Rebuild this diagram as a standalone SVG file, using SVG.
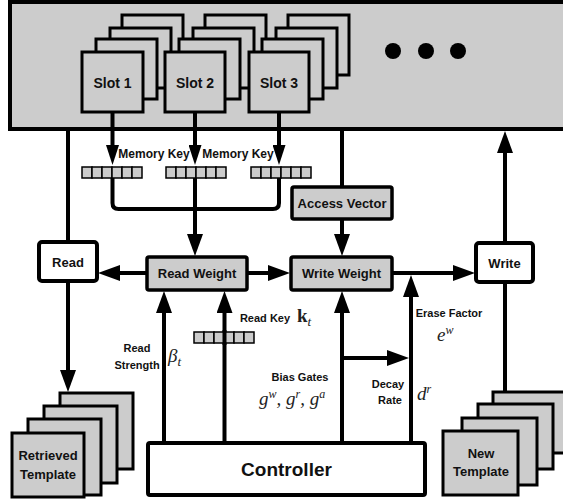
<svg xmlns="http://www.w3.org/2000/svg" width="563" height="504" viewBox="0 0 563 504">
<style>
.g{fill:#cccccc;stroke:#000;stroke-width:3}
.gb{fill:#cccccc;stroke:#000;stroke-width:3.5}
.w{fill:#fff;stroke:#000;stroke-width:4}
.c{fill:#cccccc;stroke:#000;stroke-width:1.5}
.ln{fill:none;stroke:#000;stroke-width:4}
.t{font-family:"Liberation Sans",Arial,sans-serif;font-weight:bold;fill:#111;text-anchor:middle}
.m{font-family:"Liberation Serif","DejaVu Serif",serif;font-style:italic;fill:#222}
</style>
<defs>
<marker id="a" markerUnits="userSpaceOnUse" markerWidth="22" markerHeight="16" refX="10" refY="8" orient="auto"><path d="M0,0 L22,8 L0,16 z" fill="#000"/></marker>
<marker id="s" markerUnits="userSpaceOnUse" markerWidth="20" markerHeight="13" refX="8" refY="6.5" orient="auto"><path d="M0,0 L20,6.5 L0,13 z" fill="#000"/></marker>
<g id="bar"><rect class="c" x="0" y="0" width="10" height="11"/><rect class="c" x="10" y="0" width="10" height="11"/><rect class="c" x="20" y="0" width="10" height="11"/><rect class="c" x="30" y="0" width="10" height="11"/><rect class="c" x="40" y="0" width="10" height="11"/><rect class="c" x="50" y="0" width="10" height="11"/></g>
</defs>

<g id="memory">
<rect x="10" y="2" width="570" height="127" fill="#cccccc" stroke="#000" stroke-width="4"/>
<circle cx="393" cy="51" r="8" fill="#000"/>
<circle cx="426" cy="51" r="8" fill="#000"/>
<circle cx="458" cy="51" r="8" fill="#000"/>
</g>

<g id="slot1">
<rect class="g" x="122" y="15" width="61" height="60"/>
<rect class="g" x="110" y="28" width="61" height="60"/>
<rect class="g" x="96" y="39" width="61" height="60"/>
<rect class="g" x="82" y="52" width="61" height="60"/>
<text class="t" x="112.5" y="88" font-size="14">Slot 1</text>
</g>
<g id="slot2">
<rect class="g" x="205" y="15" width="61" height="60"/>
<rect class="g" x="193" y="28" width="61" height="60"/>
<rect class="g" x="179" y="39" width="61" height="60"/>
<rect class="g" x="165" y="52" width="60" height="60"/>
<text class="t" x="195" y="88" font-size="14">Slot 2</text>
</g>
<g id="slot3">
<rect class="g" x="288" y="15" width="61" height="60"/>
<rect class="g" x="276" y="28" width="61" height="60"/>
<rect class="g" x="262" y="39" width="61" height="60"/>
<rect class="g" x="249" y="52" width="60" height="60"/>
<text class="t" x="279" y="88" font-size="14">Slot 3</text>
</g>

<g id="keys">
<use href="#bar" x="82" y="167"/>
<use href="#bar" x="166" y="167"/>
<use href="#bar" x="251" y="167"/>
<text class="t" x="154" y="158" font-size="12">Memory Key</text>
<text class="t" x="238" y="158" font-size="12">Memory Key</text>
</g>

<g id="connectors">
<line class="ln" x1="112.5" y1="112" x2="112.5" y2="153" marker-end="url(#s)"/>
<line class="ln" x1="195" y1="112" x2="195" y2="153" marker-end="url(#s)"/>
<line class="ln" x1="279" y1="112" x2="279" y2="153" marker-end="url(#s)"/>
<path class="ln" d="M112.5,178 V203 Q112.5,209 118.5,209 H273 Q279,209 279,203 V178"/>
<line class="ln" x1="195" y1="178" x2="195" y2="244" marker-end="url(#a)"/>
<line class="ln" x1="68" y1="129" x2="68" y2="242"/>
<line class="ln" x1="68" y1="281" x2="68" y2="380" marker-end="url(#a)"/>
<line class="ln" x1="342" y1="129" x2="342" y2="187"/>
<line class="ln" x1="342" y1="219" x2="342" y2="244" marker-end="url(#a)"/>
<line class="ln" x1="505" y1="243" x2="505" y2="143" marker-end="url(#a)"/>
<line class="ln" x1="505" y1="282" x2="505" y2="392"/>
<line class="ln" x1="147" y1="273" x2="110" y2="273" marker-end="url(#a)"/>
<line class="ln" x1="247" y1="273" x2="278" y2="273" marker-end="url(#a)"/>
<line class="ln" x1="392" y1="273" x2="463" y2="273" marker-end="url(#a)"/>
<line class="ln" x1="164" y1="443" x2="164" y2="303" marker-end="url(#a)"/>
<line class="ln" x1="224.5" y1="443" x2="224.5" y2="303" marker-end="url(#a)"/>
<line class="ln" x1="342" y1="443" x2="342" y2="303" marker-end="url(#a)"/>
<line class="ln" x1="342" y1="358" x2="397" y2="358" marker-end="url(#a)"/>
<line class="ln" x1="411" y1="443" x2="411" y2="287" marker-end="url(#a)"/>
</g>

<g id="readkey">
<use href="#bar" x="194" y="332"/>
<line class="ln" x1="224.5" y1="330" x2="224.5" y2="345"/>
<text class="t" x="265" y="322" font-size="11">Read Key</text>
<text x="297" y="322" font-family="'Liberation Serif','DejaVu Serif',serif" font-weight="bold" font-size="19" fill="#222">k<tspan class="m" font-weight="normal" font-size="13" dy="4">t</tspan></text>
</g>

<g id="access-vector">
<rect class="gb" x="292" y="187" width="100" height="32" rx="2"/>
<text class="t" x="342" y="208" font-size="13">Access Vector</text>
</g>

<g id="read">
<rect class="w" x="39" y="242" width="58" height="39" rx="3"/>
<text class="t" x="68" y="267" font-size="13">Read</text>
</g>
<g id="read-weight">
<rect class="gb" x="147" y="257" width="100" height="33" rx="2"/>
<text class="t" x="197" y="278" font-size="13">Read Weight</text>
</g>
<g id="write-weight">
<rect class="gb" x="291" y="257" width="101" height="33" rx="2"/>
<text class="t" x="341.5" y="278" font-size="13">Write Weight</text>
</g>
<g id="write">
<rect class="w" x="476" y="243" width="57" height="39" rx="3"/>
<text class="t" x="504.5" y="268" font-size="13">Write</text>
</g>

<g id="labels">
<text class="t" x="137" y="352" font-size="11">Read</text>
<text class="t" x="137" y="369" font-size="11">Strength</text>
<text class="m" x="168" y="362" font-size="19">β<tspan font-size="13" dy="4">t</tspan></text>
<text class="t" x="449" y="317" font-size="11">Erase Factor</text>
<text class="m" x="437" y="341" font-size="19">e<tspan font-size="12" dy="-7">w</tspan></text>
<text class="t" x="300" y="381" font-size="11">Bias Gates</text>
<text class="m" x="259" y="405" font-size="19">g<tspan font-size="12" dy="-7">w</tspan><tspan dy="7">, g</tspan><tspan font-size="12" dy="-7">r</tspan><tspan dy="7">, g</tspan><tspan font-size="12" dy="-7">a</tspan></text>
<text class="t" x="388" y="388" font-size="11">Decay</text>
<text class="t" x="390" y="404" font-size="11">Rate</text>
<text class="m" x="417" y="400" font-size="19">d<tspan font-size="12" dy="-7">r</tspan></text>
</g>

<g id="retrieved-template">
<rect class="g" x="60" y="393" width="73" height="76"/>
<rect class="g" x="44" y="406" width="73" height="77"/>
<rect class="g" x="28" y="419" width="73" height="76"/>
<rect class="g" x="12" y="433" width="72" height="64"/>
<text class="t" x="48" y="460" font-size="13">Retrieved</text>
<text class="t" x="48" y="479" font-size="13">Template</text>
</g>

<g id="new-template">
<rect class="g" x="493" y="392" width="75" height="61"/>
<rect class="g" x="478" y="404" width="75" height="65"/>
<rect class="g" x="462" y="418" width="75" height="67"/>
<rect class="g" x="443" y="431" width="75" height="64"/>
<text class="t" x="481" y="458" font-size="13">New</text>
<text class="t" x="481" y="476" font-size="13">Template</text>
</g>

<g id="controller">
<rect class="w" x="148" y="443" width="277" height="52" rx="2"/>
<text class="t" x="286.5" y="476" font-size="19">Controller</text>
</g>
</svg>
